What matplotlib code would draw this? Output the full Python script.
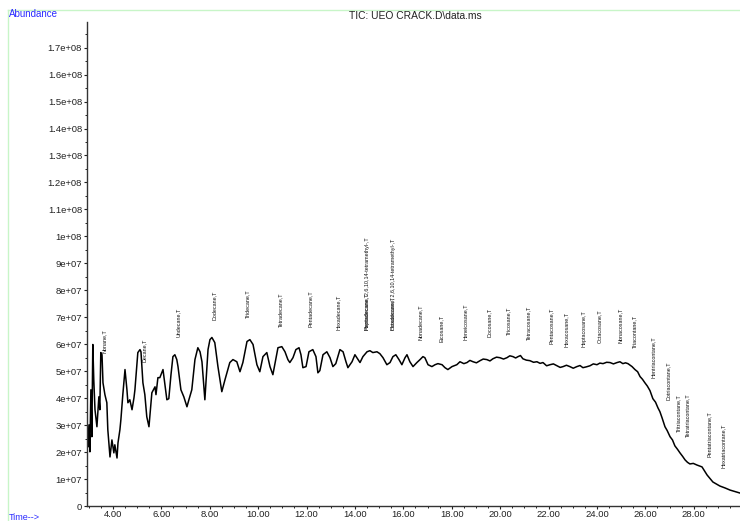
import matplotlib
matplotlib.use("Agg")
import matplotlib.pyplot as plt
from matplotlib import font_manager
from matplotlib.ticker import MultipleLocator, FormatStrFormatter, FuncFormatter

# retention time (min) and abundance (x1e7)
rt = [2.93, 2.97, 3.01, 3.05, 3.09, 3.13, 3.17, 3.21, 3.26, 3.34, 3.42, 3.46, 3.50, 3.55,
      3.59, 3.67, 3.75, 3.79, 3.88, 3.96, 4.04, 4.08, 4.17, 4.21, 4.29, 4.33, 4.41, 4.50,
      4.58, 4.62, 4.70, 4.79, 4.87, 4.91, 4.99, 5.03, 5.12, 5.16, 5.24, 5.32, 5.40, 5.49,
      5.57, 5.61, 5.74, 5.78, 5.86, 5.94, 6.07, 6.15, 6.23, 6.31, 6.40, 6.48, 6.56, 6.64,
      6.69, 6.81, 6.93, 7.06, 7.14, 7.26, 7.39, 7.51, 7.60, 7.68, 7.80, 7.93, 8.01, 8.09,
      8.21, 8.34, 8.50, 8.63, 8.83, 8.96, 9.12, 9.25, 9.37, 9.54, 9.66, 9.79, 9.95, 10.07,
      10.20, 10.36, 10.49, 10.61, 10.82, 10.98, 11.11, 11.23, 11.31, 11.44, 11.56, 11.69,
      11.77, 11.85, 11.98, 12.10, 12.26, 12.39, 12.47, 12.55, 12.68, 12.84, 12.97, 13.09,
      13.21, 13.38, 13.51, 13.63, 13.71, 13.88, 14.00, 14.08, 14.21, 14.33, 14.50, 14.62,
      14.74, 14.91, 15.03, 15.16, 15.32, 15.45, 15.57, 15.69, 15.82, 15.94, 16.07, 16.15,
      16.27, 16.40, 16.56, 16.69, 16.81, 16.89, 17.02, 17.18, 17.31, 17.43, 17.60, 17.72,
      17.84, 18.01, 18.21, 18.34, 18.50, 18.63, 18.75, 18.88, 19.02, 19.17, 19.30, 19.45,
      19.58, 19.70, 19.85, 19.99, 20.14, 20.28, 20.40, 20.53, 20.64, 20.74, 20.84, 20.94,
      21.08, 21.23, 21.38, 21.52, 21.65, 21.77, 21.92, 22.06, 22.20, 22.35, 22.48, 22.60,
      22.74, 22.88, 23.02, 23.17, 23.30, 23.42, 23.56, 23.71, 23.85, 24.00, 24.12, 24.25,
      24.40, 24.54, 24.68, 24.83, 24.95, 25.07, 25.18, 25.28, 25.45, 25.57, 25.68, 25.78,
      25.88, 25.98, 26.08, 26.19, 26.31, 26.42, 26.52, 26.60, 26.69, 26.81, 26.90, 27.02,
      27.12, 27.22, 27.33, 27.43, 27.54, 27.64, 27.74, 27.84, 27.98, 28.13, 28.34, 28.55,
      28.79, 29.08, 29.29, 29.50, 29.91]
abund = [2.45, 2.19, 3.01, 2.01, 4.31, 2.57, 5.99, 4.68, 3.57, 2.94, 4.05, 3.57, 5.69, 5.61,
         4.57, 4.13, 3.83, 2.83, 1.82, 2.45, 1.97, 2.27, 1.78, 2.34, 2.83, 3.20, 4.13, 5.06,
         4.31, 3.83, 3.94, 3.57, 4.01, 4.31, 5.24, 5.69, 5.80, 5.72, 4.57, 4.13, 3.31, 2.94,
         3.75, 4.20, 4.42, 4.13, 4.76, 4.76, 5.06, 4.50, 3.94, 3.98, 4.87, 5.54, 5.61, 5.43,
         5.17, 4.31, 4.05, 3.68, 3.94, 4.31, 5.43, 5.87, 5.72, 5.35, 3.94, 5.80, 6.17, 6.25,
         6.06, 5.17, 4.24, 4.68, 5.32, 5.43, 5.35, 4.98, 5.32, 6.10, 6.17, 5.99, 5.24, 4.98,
         5.54, 5.69, 5.17, 4.87, 5.87, 5.91, 5.72, 5.43, 5.32, 5.50, 5.80, 5.87,
         5.61, 5.13, 5.17, 5.72, 5.80, 5.54, 4.94, 5.02, 5.61, 5.72, 5.50, 5.17,
         5.28, 5.80, 5.72, 5.35, 5.13, 5.35, 5.61, 5.50, 5.32, 5.54, 5.72, 5.76,
         5.69, 5.72, 5.65, 5.50, 5.24, 5.32, 5.54, 5.61, 5.43, 5.24, 5.50, 5.61,
         5.35, 5.17, 5.32, 5.43, 5.54, 5.50, 5.24, 5.17, 5.24, 5.28, 5.24, 5.13,
         5.06, 5.17, 5.24, 5.35, 5.28, 5.32, 5.40, 5.35, 5.31, 5.39, 5.45, 5.43,
         5.38, 5.46, 5.52, 5.50, 5.45, 5.50, 5.57, 5.54, 5.49, 5.54, 5.58, 5.46,
         5.41, 5.39, 5.33, 5.35, 5.29, 5.32, 5.20, 5.24, 5.27, 5.20, 5.14, 5.17,
         5.22, 5.17, 5.11, 5.17, 5.21, 5.13, 5.16, 5.20, 5.27, 5.24, 5.30, 5.28,
         5.33, 5.32, 5.27, 5.32, 5.35, 5.28, 5.31, 5.28, 5.17, 5.06, 4.98, 4.80,
         4.70, 4.57, 4.45, 4.28, 3.98, 3.85, 3.64, 3.50, 3.27, 2.94, 2.80, 2.57,
         2.45, 2.23, 2.10, 1.97, 1.84, 1.71, 1.62, 1.56, 1.58, 1.52, 1.45, 1.15,
         0.89, 0.74, 0.67, 0.59, 0.48]

# peak annotations: name, retention time, label base height (x1e7)
peak_names = ["Nonane,T", "Decane,T", "Undecane,T", "Dodecane,T", "Tridecane,T",
              "Tetradecane,T", "Pentadecane,T", "Hexadecane,T",
              "Heptadecane,T", "Pentadecane, 2,6,10,14-tetramethyl-,T",
              "Octadecane,T", "Hexadecane, 2,6,10,14-tetramethyl-,T",
              "Nonadecane,T", "Eicosane,T", "Heneicosane,T", "Docosane,T", "Tricosane,T",
              "Tetracosane,T", "Pentacosane,T", "Hexacosane,T", "Heptacosane,T",
              "Octacosane,T", "Nonacosane,T", "Triacontane,T", "Hentriacontane,T",
              "Dotriacontane,T", "Tritriacontane,T", "Tetratriacontane,T",
              "Pentatriacontane,T", "Hexatriacontane,T"]
peak_rt = [3.65, 5.30, 6.69, 8.17, 9.58, 10.94, 12.14, 13.30, 14.50, 14.52, 15.57, 15.59,
           16.69, 17.55, 18.55, 19.54, 20.36, 21.19, 22.10, 22.72, 23.46, 24.12, 24.95,
           25.57, 26.31, 26.93, 27.39, 27.76, 28.63, 29.21]
peak_lab = [5.69, 5.35, 6.28, 6.91, 6.99, 6.62, 6.62, 6.54, 6.54, 6.54, 6.54, 6.54,
            6.17, 6.10, 6.17, 6.28, 6.36, 6.17, 5.99, 5.91, 5.91, 6.06, 6.06, 5.87,
            4.76, 3.94, 2.75, 2.57, 1.82, 1.41]

names = {f.name for f in font_manager.fontManager.ttflist}
if "Liberation Sans Narrow" in names:
    lab_font, lab_size = "Liberation Sans Narrow", 4.8
else:
    lab_font, lab_size = "Liberation Sans", 3.9
plt.rcParams['font.family'] = ['Liberation Sans', 'DejaVu Sans']

fig = plt.figure(figsize=(7.4, 5.21), dpi=100)
ax = fig.add_axes([87/740, 15/521, 653/740, 484/521])

ax.plot(rt, [v * 1e7 for v in abund], color='black', lw=1.1)

for name, t, h in zip(peak_names, peak_rt, peak_lab):
    ax.text(t, h * 1e7, name, rotation=90, ha='center', va='bottom',
            fontsize=lab_size, family=lab_font, color='#111111')

ax.set_xlim(2.93, 29.91)
ax.set_ylim(0, 1.795e8)
ax.xaxis.set_major_locator(MultipleLocator(2))
ax.xaxis.set_minor_locator(MultipleLocator(0.5))
ax.xaxis.set_major_formatter(FormatStrFormatter('%.2f'))
ax.yaxis.set_major_locator(MultipleLocator(1e7))
ax.yaxis.set_minor_locator(MultipleLocator(5e6))
ax.yaxis.set_major_formatter(FuncFormatter(lambda v, p: '%g' % v))
ax.tick_params(axis='both', which='major', length=2.5, width=0.8, labelsize=6.8, colors='#222222')
ax.tick_params(axis='both', which='minor', length=1.5, width=0.6)
ax.tick_params(axis='x', pad=0.5)
ax.tick_params(axis='y', pad=1)
for s in ['top', 'right']:
    ax.spines[s].set_visible(False)
for s in ['left', 'bottom']:
    ax.spines[s].set_color('#333333')
    ax.spines[s].set_linewidth(1)

# frame lines and corner labels of the data-system printout
fig.add_artist(plt.Line2D([8/740, 8/740], [0, 1 - 10/521], color='#c8f5c8', lw=1))
fig.add_artist(plt.Line2D([8/740, 1], [1 - 10/521, 1 - 10/521], color='#c8f5c8', lw=1))
fig.text(9/740, 1 - 14/521, "Abundance", color='#2a2aff', fontsize=7, va='center', ha='left')
fig.text(9/740, 1 - 517/521, "Time-->", color='#2a2aff', fontsize=6.5, va='center', ha='left')
fig.text(415/740, 1 - 16/521, "TIC: UEO CRACK.D\\data.ms", color='#222222', fontsize=7.4,
         va='center', ha='center')

fig.savefig("out.png", dpi=100)
